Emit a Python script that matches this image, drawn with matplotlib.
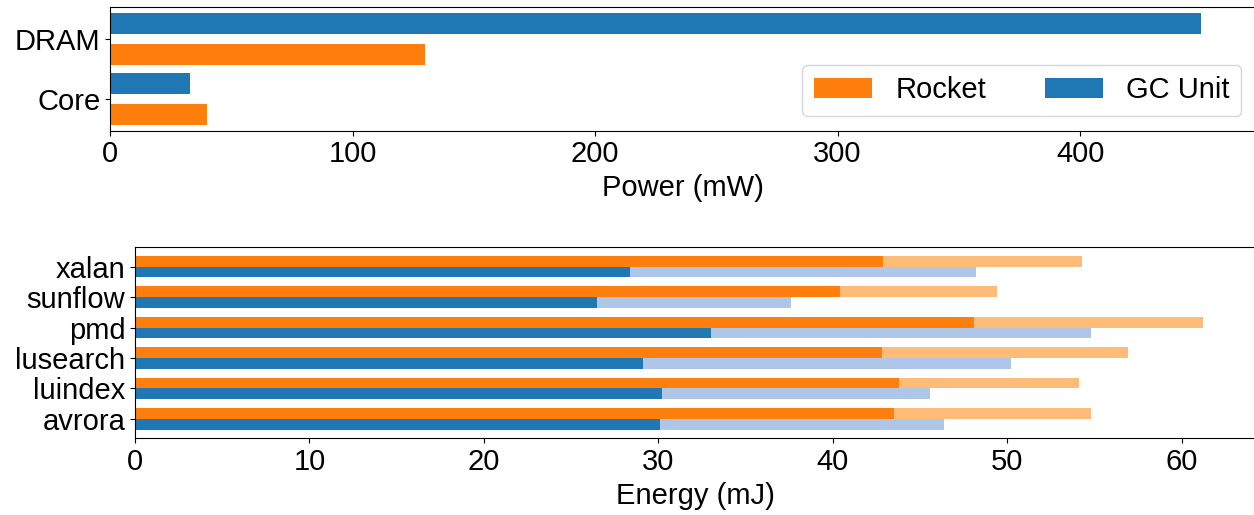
import matplotlib
matplotlib.use("Agg")
import matplotlib.pyplot as plt
import numpy as np

plt.rcParams['font.family'] = ['Liberation Sans', 'DejaVu Sans']
plt.rcParams['font.size'] = 21

# power (mW)
components = ['Core', 'DRAM']
power_rocket = [40, 130]
power_gc = [33, 450]

# energy (mJ), dark part and full bar length
benchmarks = ['avrora', 'luindex', 'lusearch', 'pmd', 'sunflow', 'xalan']
rocket_dark = [43.5, 43.8, 42.8, 48.1, 40.4, 42.9]
rocket_total = [54.8, 54.1, 56.9, 61.2, 49.4, 54.3]
gc_dark = [30.1, 30.2, 29.1, 33.0, 26.5, 28.4]
gc_total = [46.4, 45.6, 50.2, 54.8, 37.6, 48.2]

orange, blue = '#ff7f0e', '#1f77b4'
light_orange, light_blue = '#ffbb78', '#aec7e8'

fig = plt.figure(figsize=(12.54, 5.15), dpi=100)
ax1 = fig.add_axes([110 / 1254, 1 - 130.7 / 515, 1146 / 1254, 123.4 / 515])
ax2 = fig.add_axes([135 / 1254, 1 - 438.3 / 515, 1121 / 1254, 191 / 515])

# top: power
h = 0.35
y = np.arange(len(components))
ax1.barh(y - 0.75 * h, power_rocket, height=h, color=orange, label='Rocket')
ax1.barh(y + 0.75 * h, power_gc, height=h, color=blue, label='GC Unit')
ax1.set_yticks(y)
ax1.set_yticklabels(components)
ax1.set_xlabel('Power (mW)')
ax1.legend(loc='lower right', ncol=2)

# bottom: energy
y2 = np.arange(len(benchmarks))
ax2.barh(y2 + h / 2, rocket_total, height=h, color=light_orange)
ax2.barh(y2 + h / 2, rocket_dark, height=h, color=orange)
ax2.barh(y2 - h / 2, gc_total, height=h, color=light_blue)
ax2.barh(y2 - h / 2, gc_dark, height=h, color=blue)
ax2.set_yticks(y2)
ax2.set_yticklabels(benchmarks)
ax2.set_xlabel('Energy (mJ)')

for ax in (ax1, ax2):
    ax.tick_params(labelsize=21)

fig.savefig('out.png', dpi=100)
